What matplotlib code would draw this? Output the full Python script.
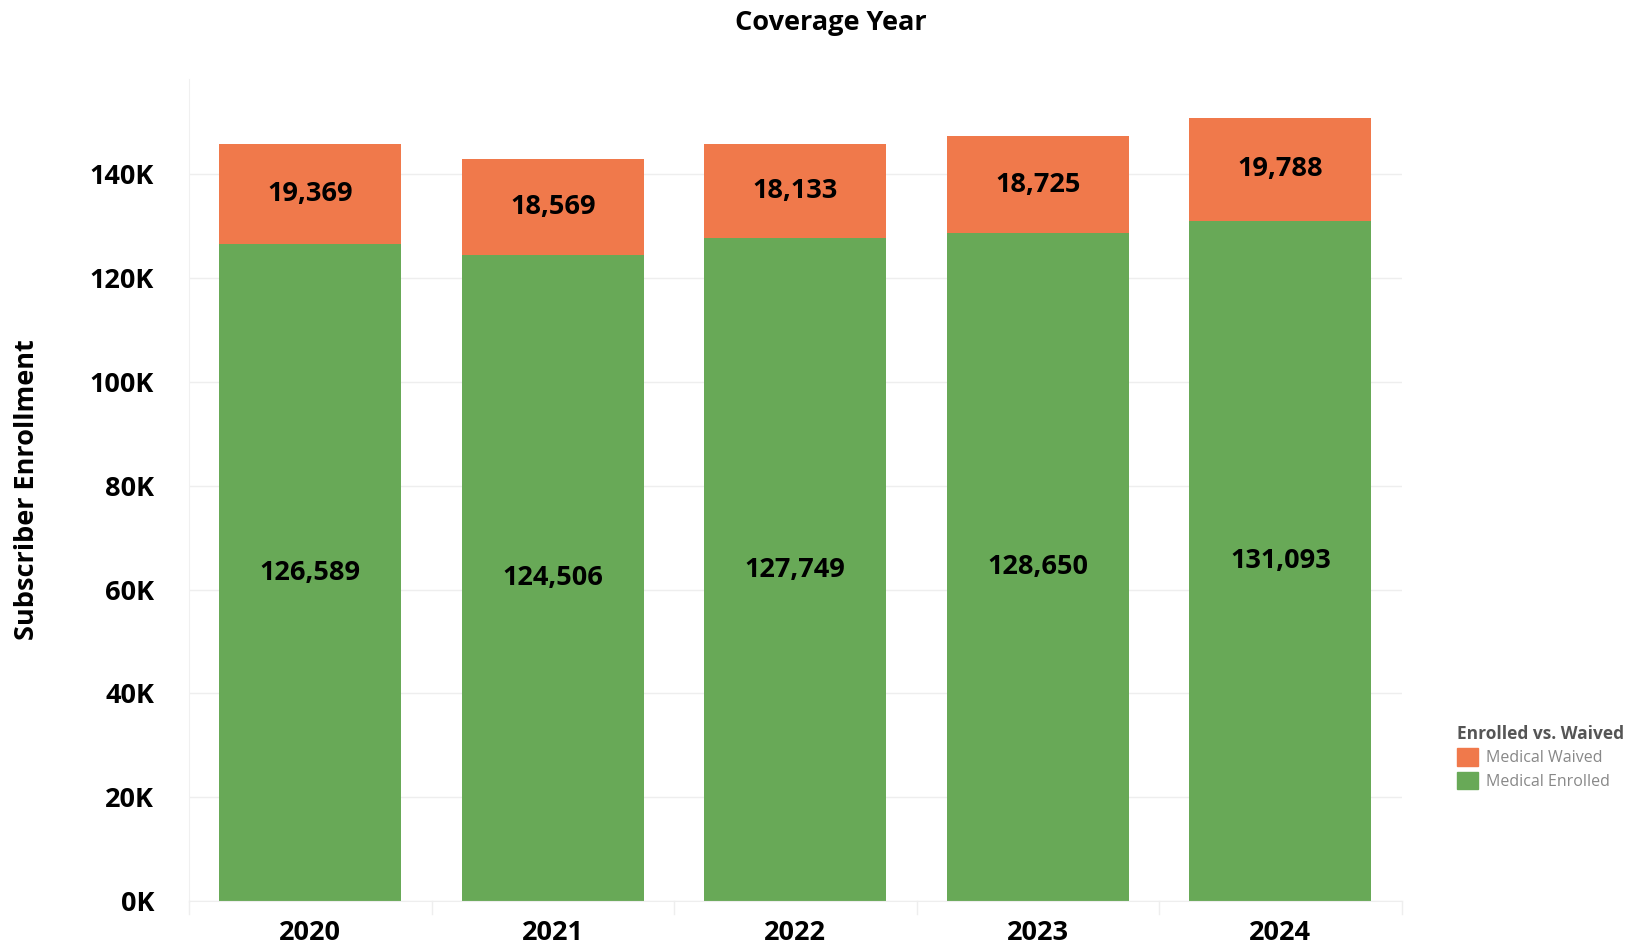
"""
Stacked bar chart of subscriber enrollment by coverage year,
split into medical enrolled vs. medical waived.
"""

import matplotlib
matplotlib.use("Agg")
import matplotlib.pyplot as plt
from matplotlib.patches import Patch
from matplotlib.ticker import FuncFormatter

plt.rcParams["font.family"] = ["Open Sans", "DejaVu Sans"]

years = ["2020", "2021", "2022", "2023", "2024"]
enrolled = [126589, 124506, 127749, 128650, 131093]
waived = [19369, 18569, 18133, 18725, 19788]

GREEN = "#68A957"
ORANGE = "#F0794B"
FS = 19.5

fig = plt.figure(figsize=(16.49, 9.47), dpi=100)
ax = fig.add_axes([0.1146, 0.0486, 0.7354, 0.868])

x = range(len(years))
ax.bar(x, enrolled, width=0.75, color=GREEN, zorder=2)
ax.bar(x, waived, width=0.75, bottom=enrolled, color=ORANGE, zorder=2)

# value labels centred in each segment
for i, (e, w) in enumerate(zip(enrolled, waived)):
    ax.text(i, e / 2, f"{e:,}", ha="center", va="center",
            fontsize=FS, fontweight="bold", color="black", zorder=3)
    ax.text(i, e + w / 2, f"{w:,}", ha="center", va="center",
            fontsize=FS, fontweight="bold", color="black", zorder=3)

ax.set_xlim(-0.5, len(years) - 0.5)
ax.set_ylim(0, 158400)
ax.set_yticks(range(0, 140001, 20000))
ax.yaxis.set_major_formatter(FuncFormatter(lambda v, _: f"{int(v / 1000)}K"))
ax.set_xticks(list(x))
ax.set_xticklabels(years)

ax.grid(axis="y", color="#EEEEEE", linewidth=1, zorder=0)
ax.tick_params(axis="y", length=0, pad=25, labelsize=FS)
ax.tick_params(axis="x", length=0, pad=14, labelsize=FS)
for lbl in ax.get_xticklabels() + ax.get_yticklabels():
    lbl.set_fontweight("bold")

for side in ["top", "right"]:
    ax.spines[side].set_visible(False)
ax.spines["left"].set_color("#F0F0F0")
ax.spines["bottom"].set_color("#EEEEEE")

# small separators between categories below the baseline
for b in [i + 0.5 for i in range(-1, len(years))]:
    ax.plot([b, b], [0, -2500], color="#EEEEEE", linewidth=1, clip_on=False)

ax.set_ylabel("Subscriber Enrollment", fontsize=FS, fontweight="bold", labelpad=36)
fig.text(0.504, 0.976, "Coverage Year", ha="center", va="center",
         fontsize=FS, fontweight="bold")

handles = [Patch(color=ORANGE, label="Medical Waived"),
           Patch(color=GREEN, label="Medical Enrolled")]
leg = fig.legend(handles=handles, title="Enrolled vs. Waived",
                 loc="upper left", bbox_to_anchor=(0.875, 0.25),
                 frameon=False, fontsize=11.5, title_fontsize=12.5,
                 handlelength=1.3, handleheight=1.3, handletextpad=0.5,
                 labelspacing=0.35, alignment="left")
leg.get_title().set_fontweight("bold")
leg.get_title().set_color("#555555")
for t in leg.get_texts():
    t.set_color("#888888")

fig.savefig("out.png", dpi=100)
